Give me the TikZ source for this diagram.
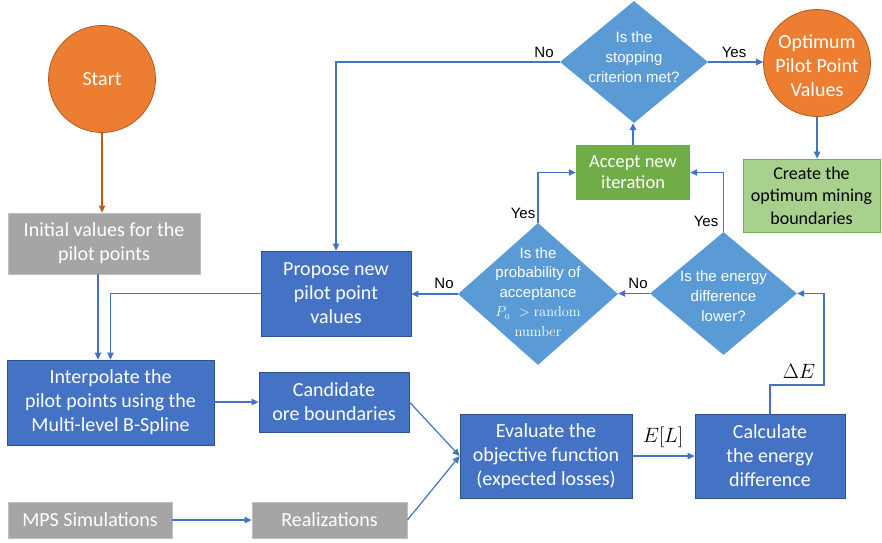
\documentclass[tikz,border=0pt]{standalone}
\usepackage[no-math]{fontspec}
\setmainfont{Carlito}
\newfontfamily\arialf{Liberation Sans}
\usetikzlibrary{shapes.geometric,arrows.meta,calc}
\definecolor{boxblue}{HTML}{4472C4}
\definecolor{boxedge}{HTML}{2F528F}
\definecolor{diablue}{HTML}{5B9BD5}
\definecolor{orfill}{HTML}{ED7D31}
\definecolor{oredge}{HTML}{AE5A21}
\definecolor{grfill}{HTML}{A5A5A5}
\definecolor{gredge}{HTML}{BFBFBF}
\definecolor{accgreen}{HTML}{70AD47}
\definecolor{lgreen}{HTML}{A9D18E}
\definecolor{linecol}{HTML}{4472C4}
\definecolor{startarr}{HTML}{C55A11}
\begin{document}
\begin{tikzpicture}[x=1pt,y=-1pt,
  bbox/.style={rectangle, draw=boxedge, fill=boxblue, line width=0.8pt, text=white, align=center, inner sep=0, font=\fontsize{20}{24}\selectfont},
  gbox/.style={rectangle, draw=gredge, fill=grfill, line width=0.8pt, text=white, align=center, inner sep=0, font=\fontsize{20}{24}\selectfont},
  circ/.style={circle, draw=oredge, fill=orfill, line width=0.8pt, text=white, align=center, inner sep=0, minimum size=107pt, font=\fontsize{20}{24}\selectfont},
  dia/.style={diamond, fill=diablue, inner sep=0},
  dtext/.style={text=white, align=center, font=\arialf\fontsize{15}{20}\selectfont},
  lbl/.style={text=black, font=\arialf\fontsize{15}{18}\selectfont},
  arr/.style={draw=linecol, line width=1.2pt, -{Triangle[length=7pt,width=6.5pt]}},
  sarr/.style={draw=startarr, line width=1.2pt, -{Triangle[length=7pt,width=6.5pt]}}
]
\useasboundingbox (0,0) rectangle (882,542);
% nodes
\node[circ] (start) at (102,79) {Start};
\node[gbox, minimum width=192pt, minimum height=61pt] (init) at (104,243.5) {Initial values for the\\pilot points};
\node[bbox, minimum width=207pt, minimum height=85pt] (interp) at (110.5,402.5) {Interpolate the\\pilot points using the\\Multi-level B-Spline};
\node[bbox, minimum width=150pt, minimum height=60pt] (cand) at (334,402) {Candidate\\ore boundaries};
\node[gbox, minimum width=164pt, minimum height=36pt] (mps) at (90,520) {MPS Simulations};
\node[gbox, minimum width=155pt, minimum height=36pt] (real) at (329.5,520) {Realizations};
\node[bbox, minimum width=172pt, minimum height=84pt] (eval) at (546,456) {Evaluate the\\objective function\\(expected losses)};
\node[bbox, minimum width=150pt, minimum height=84pt] (calc) at (770,456) {Calculate\\the energy\\difference};
\node[bbox, minimum width=150pt, minimum height=85pt] (prop) at (336,293.5) {Propose new\\pilot point\\values};
\node[rectangle, fill=accgreen, text=white, align=center, inner sep=0, minimum width=114pt, minimum height=55pt, font=\fontsize{18.5}{21}\selectfont] (accept) at (633,172.5) {Accept new\\iteration};
\node[rectangle, draw=accgreen, fill=lgreen, line width=0.8pt, text=black, align=center, inner sep=0, minimum width=137pt, minimum height=73pt, font=\fontsize{18}{22.5}\selectfont] (create) at (811.5,195.5) {Create the\\optimum mining\\boundaries};
\node[circ] (opt) at (817,63) {};
\node[text=white, align=center, font=\fontsize{20}{24}\selectfont] (optt) at (817,65.5) {Optimum\\Pilot Point\\Values};
\node[dia, minimum width=148pt, minimum height=122pt] (stop) at (634,62) {};
\node[dtext] (stopt) at (634,57) {Is the\\stopping\\criterion met?};
\node[dia, minimum width=147pt, minimum height=123pt] (energy) at (723.5,293.5) {};
\node[dtext] (energyt) at (723.5,296) {Is the energy\\difference\\lower?};
\node[dia, minimum width=160pt, minimum height=142pt] (prob) at (538,294) {};
\node[dtext, font=\arialf\fontsize{15}{19.5}\selectfont] (probt) at (538,292) {Is the\\probability of\\acceptance\\$P_a\ >\mathrm{random}$\\$\mathrm{number}$};
% connectors
\draw[sarr] (start.south) -- (start.south |- init.north);
\draw[arr] ([xshift=-6pt]init.south) -- ([xshift=-6pt]init.south |- interp.north);
\draw[arr] (prop.west) -| (interp.north);
\draw[arr] (interp.east |- cand.west) -- (cand.west);
\draw[arr] (mps) -- (real);
\draw[arr] (cand.east) -- (eval.west);
\draw[arr] (real.east) -- (eval.west);
\draw[arr] (eval) -- (calc);
\node[font=\fontsize{22}{24}\selectfont] (el) at (663,437) {$E[L]$};
\coordinate (c1) at (824,385);
\draw[arr] (calc.north) |- (c1) |- (energy.east);
\node[font=\fontsize{21}{22}\selectfont] (de) at (799,371) {$\Delta E$};
\draw[arr] (energy.north) |- (accept.east);
\draw[arr] (energy.west) -- (energy.west -| prob.east);
\draw[arr] (prob.north) |- (accept.west);
\draw[arr] (prob.west) -- (prob.west -| prop.east);
\draw[arr] (accept.north) -- (accept.north |- stop.south);
\draw[arr] (stop.west) -| (prop.north);
\draw[arr] (stop.east) -- (stop.east -| opt.west);
\draw[arr] (opt.south) -- (opt.south |- create.north);
% labels
\node[lbl] (l1) at (544,52) {No};
\node[lbl] (l2) at (734,52) {Yes};
\node[lbl] (l3) at (523,213) {Yes};
\node[lbl] (l4) at (706,221) {Yes};
\node[lbl] (l5) at (638,283) {No};
\node[lbl] (l6) at (444,283) {No};
\end{tikzpicture}
\end{document}
